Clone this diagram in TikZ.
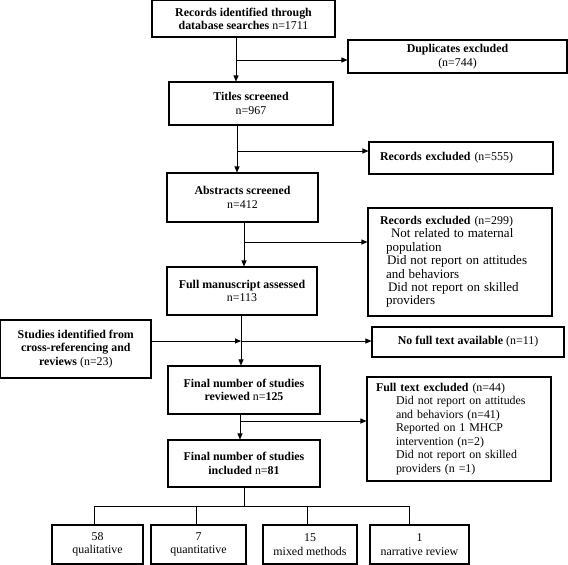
\documentclass[tikz,border=0pt]{standalone}
\usepackage{fontspec}
\setmainfont{Liberation Serif}
\usetikzlibrary{arrows.meta}
\begin{document}
\begin{tikzpicture}[x=1pt,y=-1pt,
  box/.style={draw, line width=1.1pt, inner sep=0pt, align=center,
    font=\fontsize{11.9}{13.5}\selectfont},
  lbox/.style={box, align=left},
  conn/.style={line width=0.9pt},
  arr/.style={conn, -{Triangle[length=6pt,width=5pt]}}]
\useasboundingbox (0,0) rectangle (568,565);

\node[box, minimum width=183pt, minimum height=36.4pt] (rec) at (243.5,18.8)
  {\textbf{Records identified through}\\\textbf{database searches} n=1711};
\node[box, minimum width=219pt, minimum height=33pt] (dup) at (457.5,56.5)
  {\textbf{Duplicates excluded}\\(n=744)};
\node[box, minimum width=164pt, minimum height=43pt] (tit) at (251,103.5)
  {\textbf{Titles screened}\\n=967};
\node[lbox, minimum width=184pt, minimum height=32pt, inner xsep=11pt, text width=162pt] (ex555) at (461,158)
  {\textbf{Records excluded} (n=555)};
\node[box, minimum width=151pt, minimum height=49pt] (abs) at (242.5,197.5)
  {\textbf{Abstracts screened}\\n=412};
\node[lbox, minimum width=184pt, minimum height=108pt, inner xsep=12pt, text width=160pt] (ex299) at (460,262)
  {\textbf{Records excluded} (n=299)\\
   \fontsize{13}{13.4}\selectfont
   \hspace*{11pt}Not related to maternal\\
   \hspace*{6pt}population\\
   \hspace*{7pt}Did not report on attitudes\\
   \hspace*{6pt}and behaviors\\
   \hspace*{8pt}Did not report on skilled\\
   \hspace*{6pt}providers};
\node[box, minimum width=150pt, minimum height=48pt] (full) at (242,291)
  {\textbf{Full manuscript assessed}\\n=113};
\node[box, minimum width=150.4pt, minimum height=58pt] (stud) at (75.8,349)
  {\textbf{Studies identified from}\\\textbf{cross-referencing and}\\\textbf{reviews} (n=23)};
\node[box, minimum width=192pt, minimum height=30pt] (nofull) at (468,342)
  {\textbf{No full text available} (n=11)};
\node[box, minimum width=152pt, minimum height=48pt] (rev) at (244,390)
  {\textbf{Final number of studies}\\\textbf{reviewed} n=\textbf{125}};
\node[lbox, minimum width=184pt, minimum height=104pt, inner xsep=9pt, text width=166pt] (ex44) at (459,429)
  {\textbf{Full text excluded} (n=44)\\
   \hspace*{20pt}Did not report on attitudes\\
   \hspace*{20pt}and behaviors (n=41)\\
   \hspace*{20pt}Reported on 1 MHCP\\
   \hspace*{20pt}intervention (n=2)\\
   \hspace*{20pt}Did not report on skilled\\
   \hspace*{20pt}providers (n =1)};
\node[box, minimum width=152pt, minimum height=47pt] (inc) at (244,463.5)
  {\textbf{Final number of studies}\\\textbf{included} n=\textbf{81}};
\node[box, minimum width=91pt, minimum height=39pt] (qual) at (97.5,544.5)
  {58\\qualitative};
\node[box, minimum width=95pt, minimum height=39pt] (quant) at (198.5,544.5)
  {7\\quantitative};
\node[box, minimum width=94pt, minimum height=39pt] (mixed) at (310,544.5)
  {15\\mixed methods};
\node[box, minimum width=99pt, minimum height=39pt] (narr) at (419.5,544.5)
  {1\\narrative review};

% junction coordinates
\coordinate (j1) at (236,60);
\coordinate (j2) at (237,151);
\coordinate (j3) at (244,242);
\coordinate (j4) at (241,341);
\coordinate (j5) at (240,421);
\coordinate (bar) at (244,506);
\coordinate (d1) at (94,506);
\coordinate (d2) at (196,506);
\coordinate (d3) at (307,506);
\coordinate (d4) at (409,506);

\draw[arr] (rec.south -| j1) -- (tit.north -| j1);
\draw[arr] (j1) -- (j1 -| dup.west);
\draw[arr] (tit.south -| j2) -- (abs.north -| j2);
\draw[arr] (j2) -- (j2 -| ex555.west);
\draw[arr] (abs.south -| j3) -- (full.north -| j3);
\draw[arr] (j3) -- (j3 -| ex299.west);
\draw[arr] (full.south -| j4) -- (rev.north -| j4);
\draw[arr] (stud.east |- j4) -- (j4);
\draw[arr] (j4) -- (j4 -| nofull.west);
\draw[arr] (rev.south -| j5) -- (inc.north -| j5);
\draw[arr] (j5) -- (j5 -| ex44.west);

\draw[conn] (inc.south -| bar) -- (bar);
\draw[conn] (d1) -- (d4);
\draw[conn] (d1) -- (d1 |- qual.north);
\draw[conn] (d2) -- (d2 |- quant.north);
\draw[conn] (d3) -- (d3 |- mixed.north);
\draw[conn] (d4) -- (d4 |- narr.north);
\end{tikzpicture}
\end{document}
